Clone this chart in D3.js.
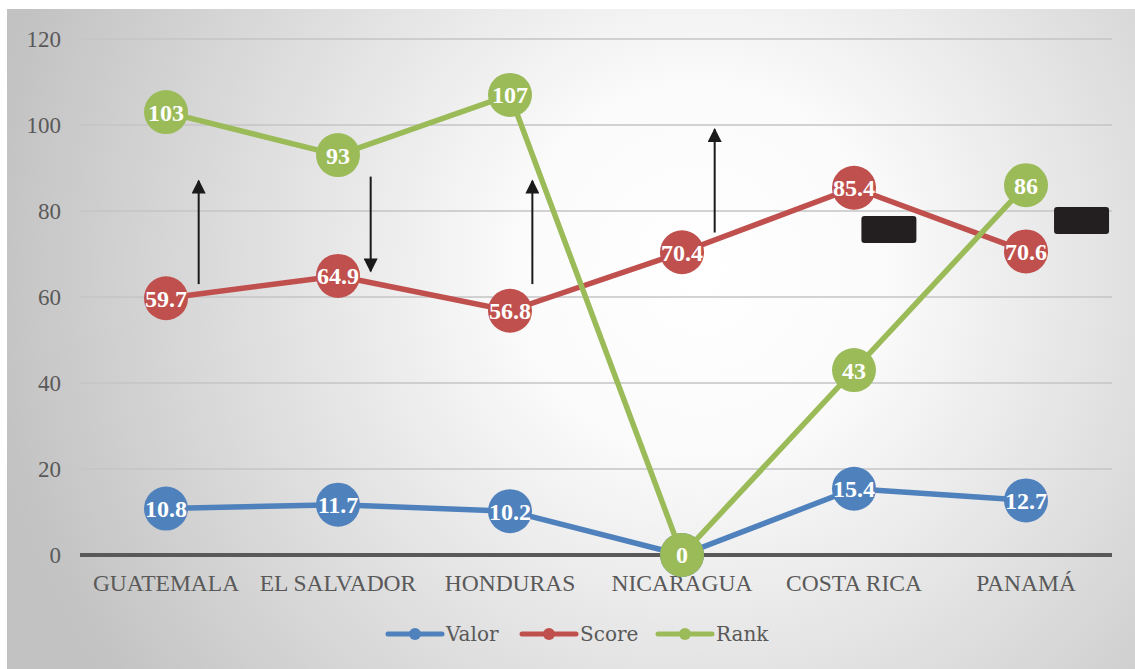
<!DOCTYPE html>
<html><head><meta charset="utf-8">
<script src="https://cdn.jsdelivr.net/npm/d3@7"></script>
<style>html,body{margin:0;padding:0;background:#fff;}svg{display:block;}</style>
</head><body>
<svg id="chart" width="1135" height="669"></svg>
<script>
const categories = ["GUATEMALA","EL SALVADOR","HONDURAS","NICARAGUA","COSTA RICA","PANAMÁ"];
const valor = [10.8, 11.7, 10.2, 0, 15.4, 12.7];
const score = [59.7, 64.9, 56.8, 70.4, 85.4, 70.6];
const rank = [103, 93, 107, 0, 43, 86];
const yTicks = [0, 20, 40, 60, 80, 100, 120];
const seriesNames = ["Valor","Score","Rank"];
const seriesColors = ["#4f81bd","#c0504d","#9bbb59"];
// annotation arrows: [category index offset, from value, to value]
const arrows = [[0.19,63,87],[1.19,88,66],[2.13,63,87],[3.19,75,99]];
const boxes = [[4.2,75.8],[5.32,77.9]];

const svg = d3.select("#chart");
const W = 1135, H = 669;
const defs = svg.append("defs");
const grad = defs.append("radialGradient").attr("id","bg")
  .attr("gradientUnits","userSpaceOnUse").attr("cx",700).attr("cy",270).attr("r",720);
grad.append("stop").attr("offset","0").attr("stop-color","#ffffff");
grad.append("stop").attr("offset","0.25").attr("stop-color","#fbfbfb");
grad.append("stop").attr("offset","1").attr("stop-color","#c2c2c2");
svg.append("rect").attr("x",7).attr("y",9).attr("width",W-7).attr("height",H-9).attr("fill","url(#bg)");

const x = d3.scaleBand().domain(categories).range([80,1112]);
const y = d3.scaleLinear().domain([0,120]).range([555,39]);
const cx = i => x(categories[i]) + x.bandwidth()/2;
const serif = "Liberation Serif, Times New Roman, serif";

// gridlines
svg.append("g").selectAll("line").data(yTicks.filter(d=>d>0)).join("line")
  .attr("x1",80).attr("x2",1112).attr("y1",d=>y(d)).attr("y2",d=>y(d))
  .attr("stroke","#c4c4c4").attr("stroke-width",1.5);
// y axis labels
const yAxis = d3.axisLeft(y).tickValues(yTicks).tickSize(0).tickPadding(0);
const ya = svg.append("g").attr("transform","translate(61,0)").call(yAxis);
ya.select(".domain").remove();
ya.selectAll("text").attr("font-family",serif)
  .attr("font-size",23).attr("fill","#595959").attr("dy","0.34em");
// zero line
svg.append("line").attr("x1",80).attr("x2",1112).attr("y1",y(0)).attr("y2",y(0))
  .attr("stroke","#595959").attr("stroke-width",4);
// x labels
const xAxis = d3.axisBottom(x).tickSize(0).tickPadding(0);
const xa = svg.append("g").attr("transform","translate(0,574)").call(xAxis);
xa.select(".domain").remove();
xa.selectAll("text").attr("font-family",serif)
  .attr("font-size",23.5).attr("fill","#595959").attr("dy","0.71em");

// annotations
defs.append("marker").attr("id","ah").attr("viewBox","0 0 10 10").attr("refX",9).attr("refY",5)
  .attr("markerWidth",17).attr("markerHeight",14).attr("markerUnits","userSpaceOnUse")
  .attr("orient","auto").append("path").attr("d","M0,0L10,5L0,10Z").attr("fill","#1a1a1a");
svg.append("g").selectAll("line").data(arrows).join("line")
  .attr("x1",d=>x.range()[0]+x.bandwidth()*(d[0]+0.5)).attr("x2",d=>x.range()[0]+x.bandwidth()*(d[0]+0.5))
  .attr("y1",d=>y(d[1])).attr("y2",d=>y(d[2]))
  .attr("stroke","#1a1a1a").attr("stroke-width",2).attr("marker-end","url(#ah)");
svg.append("g").selectAll("rect").data(boxes).join("rect")
  .attr("x",d=>x.range()[0]+x.bandwidth()*(d[0]+0.5)-27).attr("y",d=>y(d[1])-13)
  .attr("width",55).attr("height",27).attr("rx",3).attr("fill","#231f20");

// series
const data = [valor, score, rank];
const line = d3.line().x((d,i)=>cx(i)).y(d=>y(d));
data.forEach((vals,k)=>{
  const g = svg.append("g");
  g.append("path").datum(vals).attr("d",line).attr("fill","none")
    .attr("stroke",seriesColors[k]).attr("stroke-width",5.5).attr("stroke-linejoin","round");
  g.selectAll("circle").data(vals).join("circle")
    .attr("cx",(d,i)=>cx(i)).attr("cy",d=>y(d)).attr("r",22).attr("fill",seriesColors[k]);
  g.selectAll("text").data(vals).join("text")
    .attr("x",(d,i)=>cx(i)).attr("y",d=>y(d)).attr("dy","0.35em").attr("text-anchor","middle")
    .attr("font-family",serif).attr("font-weight","bold")
    .attr("font-size",24).attr("fill","#ffffff").text(d=>d);
});

// legend
const legendX = [388, 522, 658];
const lg = svg.append("g");
seriesNames.forEach((n,k)=>{
  const g = lg.append("g").attr("transform",`translate(${legendX[k]},634)`);
  g.append("line").attr("x1",0).attr("x2",54).attr("stroke",seriesColors[k]).attr("stroke-width",5).attr("stroke-linecap","round");
  g.append("circle").attr("cx",27).attr("r",6).attr("fill",seriesColors[k]);
  g.append("text").attr("x",58).attr("dy","0.35em").attr("font-family","DejaVu Serif, serif")
    .attr("font-size",20).attr("fill","#595959").text(n);
});
</script>
</body></html>
